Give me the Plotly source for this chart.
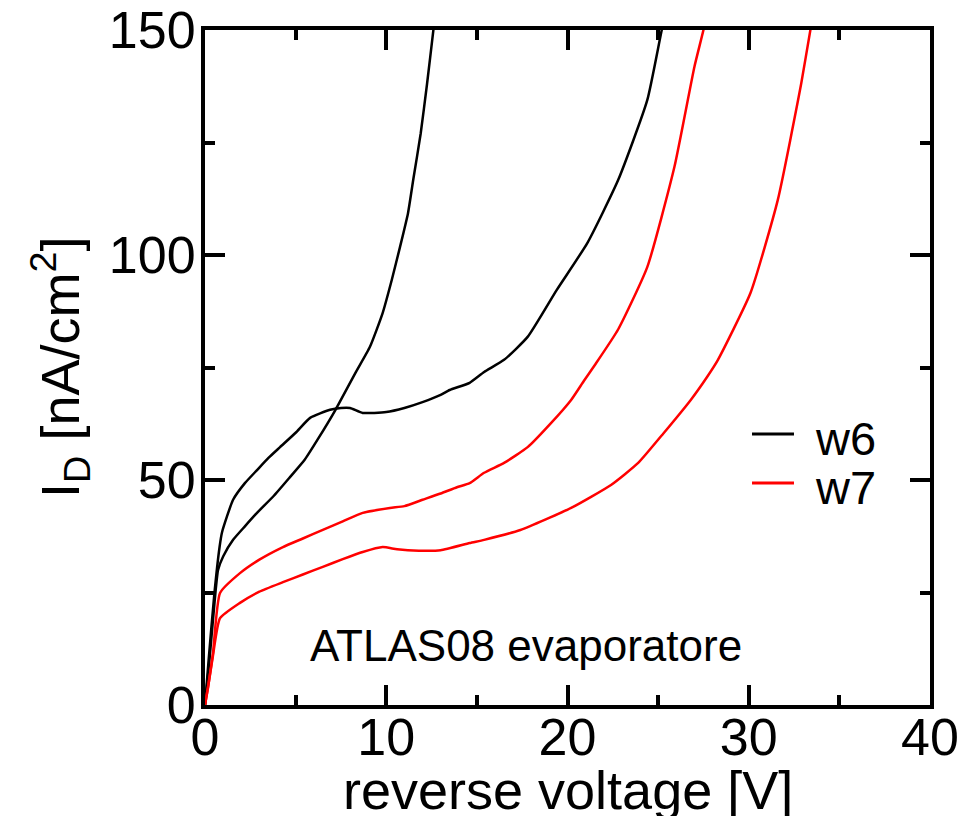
import plotly.graph_objects as go

# ---- data ----
w6a_v = [0, 0.2, 0.44, 0.6, 0.72, 1.0, 1.55, 2.2, 2.87, 3.8, 4.7, 5.5, 6.2, 7.2, 8.3, 9.1, 9.8, 10.3, 10.76, 11.2, 11.5, 11.9, 12.25, 12.6, 12.9]
w6a_i = [0, 8, 18.9, 26, 30, 33, 36.7, 39.7, 42.7, 46.5, 50.7, 54.5, 58.9, 65.6, 73.8, 79.6, 87.1, 94.4, 101.8, 109.3, 117, 127, 138, 150, 160]

w6b_v = [0, 0.2, 0.5, 0.8, 0.94, 1.55, 2.2, 2.87, 3.5, 4.14, 5.0, 5.8, 6.9, 7.5, 8.0, 8.7, 10.0, 11.0, 12.0, 13.0, 13.5, 14.6, 15.4, 16.5, 17.8, 19.4, 21.1, 22.8, 24.4, 25.2, 25.5]
w6b_i = [0, 10, 24, 35, 38.4, 45.6, 49.3, 52.2, 54.9, 57.3, 60.5, 63.8, 65.6, 66.0, 66.0, 64.9, 65.1, 66, 67.3, 68.9, 70, 71.6, 74.0, 76.7, 81.8, 92.2, 102.7, 116.7, 134.4, 150, 155]

w7a_v = [0, 0.17, 0.44, 0.83, 1.93, 3.0, 4.3, 5.4, 6.5, 7.6, 8.7, 10.2, 11.0, 12.0, 13.0, 13.9, 14.6, 15.4, 16.5, 17.8, 19.1, 20.2, 20.9, 21.5, 22.8, 24.4, 25.9, 27.0, 27.5, 27.8]
w7a_i = [0, 4, 11.5, 24.9, 29.3, 32.3, 35.1, 37, 38.9, 40.8, 42.7, 43.8, 44.2, 45.6, 47, 48.4, 49.3, 51.6, 53.8, 57.3, 62.7, 67.8, 72, 75.5, 83.5, 97.3, 119.6, 141.8, 150, 156]

w7b_v = [0, 0.17, 0.44, 0.83, 1.93, 3.0, 4.3, 5.4, 6.5, 7.6, 8.7, 9.8, 10.6, 11.8, 13.0, 14.6, 15.4, 17.4, 20.2, 22.4, 23.9, 25.3, 26.8, 27.7, 28.3, 30.1, 31.6, 32.9, 33.4, 33.7]
w7b_i = [0, 4, 11, 19.3, 22.7, 25.2, 27.3, 29, 30.7, 32.4, 34.0, 35.1, 34.6, 34.3, 34.4, 36, 36.7, 38.9, 43.8, 48.9, 53.8, 60.4, 67.8, 72.9, 76.7, 91.6, 112.2, 138.2, 150, 156]

x_ticks = [0, 10, 20, 30, 40]
y_ticks = [0, 50, 100, 150]

legend_names = ["w6", "w7"]
legend_colors = ["black", "red"]

FONT = "Liberation Sans, Arial, sans-serif"

fig = go.Figure()
line_w = 2.5
for xs, ys, col, nm in [(w6a_v, w6a_i, "black", "w6"), (w6b_v, w6b_i, "black", "w6"),
                        (w7a_v, w7a_i, "red", "w7"), (w7b_v, w7b_i, "red", "w7")]:
    fig.add_trace(go.Scatter(x=xs, y=ys, mode="lines", name=nm,
                             line=dict(color=col, width=line_w, shape="spline", smoothing=0.5)))

axis_common = dict(
    showline=True, linewidth=4, linecolor="black", mirror="ticks",
    ticks="inside", ticklen=20, tickwidth=3.5, tickcolor="black",
    showgrid=False, zeroline=False, automargin=False,
    tickfont=dict(family=FONT, size=52, color="black"),
)

fig.update_xaxes(range=[0, 40], tickvals=x_ticks, ticktext=[str(v) for v in x_ticks],
                 minor=dict(ticks="inside", ticklen=10, tickwidth=3.5, dtick=5, tick0=0, tickcolor="black"),
                 ticklabelstandoff=-16,
                 **axis_common)
fig.update_yaxes(range=[0, 150], tickvals=y_ticks, ticktext=[str(v) for v in y_ticks],
                 minor=dict(ticks="inside", ticklen=10, tickwidth=3.5, dtick=25, tick0=0, tickcolor="black"),
                 ticklabelstandoff=-5,
                 **axis_common)

# axis titles as annotations for exact placement
fig.add_annotation(x=0.5, y=-0.078, xref="paper", yref="paper", yanchor="top",
                   text="reverse voltage [V]", showarrow=False,
                   font=dict(family=FONT, size=54, color="black"))
fig.add_annotation(x=-0.256, y=0.5, xref="paper", yref="paper", textangle=-90,
                   text="I<sub>D</sub> [nA/cm<sup>2</sup>]", showarrow=False,
                   font=dict(family=FONT, size=54, color="black"))

fig.add_annotation(x=17.7, y=13.3, xref="x", yref="y", text="ATLAS08 evaporatore",
                   showarrow=False, font=dict(family=FONT, size=44, color="black"))

# manual legend
leg_line_x0, leg_line_x1, leg_text_x = 0.7545, 0.8124, 0.838
leg_y = [0.4015, 0.3289]
for name, col, yy in zip(legend_names, legend_colors, leg_y):
    fig.add_shape(type="line", xref="paper", yref="paper",
                  x0=leg_line_x0, x1=leg_line_x1, y0=yy, y1=yy,
                  line=dict(color=col, width=2.8))
    fig.add_annotation(x=leg_text_x, y=yy - 0.006, xref="paper", yref="paper",
                       xanchor="left", yanchor="middle", text=name, showarrow=False,
                       font=dict(family=FONT, size=47, color="black"))

fig.update_layout(
    width=969, height=816,
    margin=dict(l=205, r=39, t=30, b=111, pad=0),
    plot_bgcolor="white", paper_bgcolor="white",
    font=dict(family=FONT, color="black"),
    showlegend=False,
)

fig.write_html("out.html")
